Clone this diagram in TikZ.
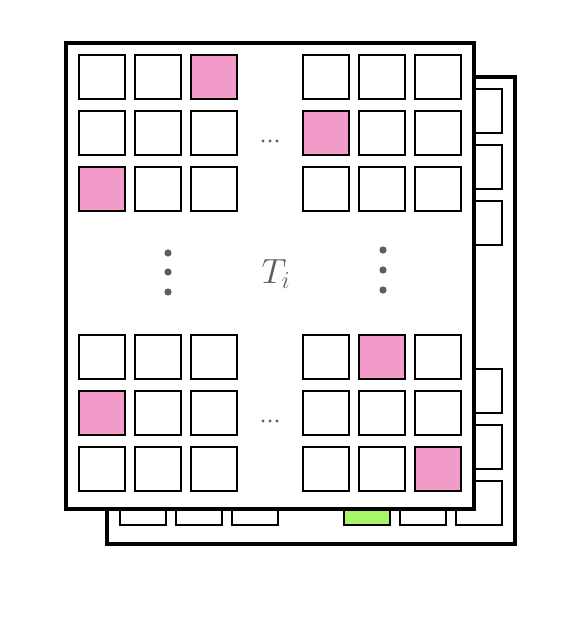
\documentclass[tikz,border=0pt]{standalone}
\usetikzlibrary{calc}
\definecolor{cellpink}{HTML}{F29AC8}
\definecolor{cellgreen}{HTML}{A6F56A}
\definecolor{dotgray}{HTML}{5E5E5E}
\tikzset{
  cell/.style={draw,line width=1.4pt,fill=white},
  panel/.style={draw,line width=2.6pt,fill=white},
  bigdot/.style={fill=dotgray,draw=none},
}
\begin{document}
\begin{tikzpicture}[x=0.025cm,y=-0.025cm]
\useasboundingbox (0,0) rectangle (575,623);
%back panel
\draw[panel](107,77) rectangle (515,544);
\foreach \c in {120,176,232,344,400,456}{
\foreach \r in {89,145,201,369,425,481}{
\draw[cell](\c,\r) rectangle ++(46,44);
}
}
\draw[cell,fill=cellgreen](344,481) rectangle ++(46,44);
%front panel
\draw[panel](66,43) rectangle (474,509);
\foreach \c in {79,135,191,303,359,415}{
\foreach \r in {55,111,167,335,391,447}{
\draw[cell](\c,\r) rectangle ++(46,44);
}
}
%marked cells
\draw[cell,fill=cellpink](191,55) rectangle ++(46,44);
\draw[cell,fill=cellpink](303,111) rectangle ++(46,44);
\draw[cell,fill=cellpink](79,167) rectangle ++(46,44);
\draw[cell,fill=cellpink](359,335) rectangle ++(46,44);
\draw[cell,fill=cellpink](79,391) rectangle ++(46,44);
\draw[cell,fill=cellpink](415,447) rectangle ++(46,44);
%vertical dots
\foreach \y in {253,272,292}{
\fill[bigdot](168,\y) circle (3.6);
}
\foreach \y in {250,270,290}{
\fill[bigdot](383,\y) circle (3.6);
}
%horizontal dots
\foreach \x in {263,270,277}{
\fill[bigdot](\x,141) circle (1.6);
\fill[bigdot](\x,421) circle (1.6);
}
%label
\node[anchor=base,inner sep=0pt,text=dotgray,font=\fontsize{24}{28}\selectfont](ti) at (276,283){$T_i$};
\end{tikzpicture}
\end{document}
